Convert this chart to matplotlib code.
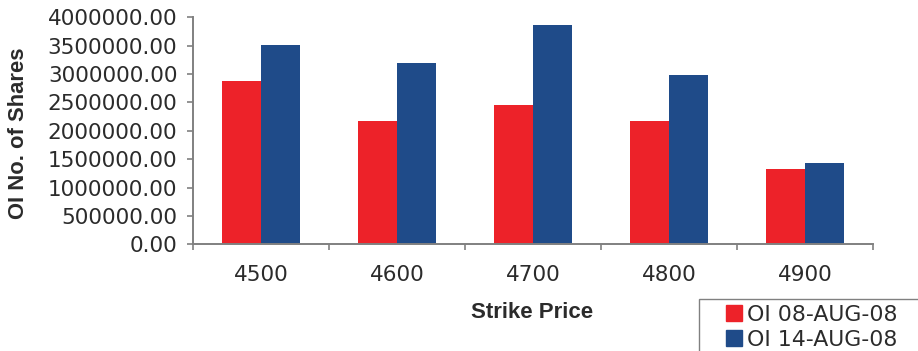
import numpy as np
import matplotlib.pyplot as plt
from matplotlib.lines import Line2D
from matplotlib.patches import Rectangle
from matplotlib.ticker import FuncFormatter

# open interest per strike
strikes = ['4500', '4600', '4700', '4800', '4900']
oi_08aug = [2880000, 2170000, 2460000, 2170000, 1330000]
oi_14aug = [3510000, 3200000, 3870000, 2980000, 1430000]
series_names = ['OI 08-AUG-08', 'OI 14-AUG-08']

red = '#ed2229'
blue = '#1f4b89'
grey = '#808080'
txt = '#2b2b2b'

W, H = 918, 351
fig = plt.figure(figsize=(W / 100, H / 100), dpi=100)
ax = fig.add_axes([193.3 / W, 1 - 244.3 / H, 680 / W, 227 / H])

x = np.arange(len(strikes))
w = 0.288
ax.bar(x - w / 2, oi_08aug, w, color=red)
ax.bar(x + w / 2, oi_14aug, w, color=blue)

ax.set_xlim(-0.5, len(strikes) - 0.5)
ax.set_ylim(0, 4000000)
ax.set_yticks(np.arange(0, 4000001, 500000))
ax.yaxis.set_major_formatter(FuncFormatter(lambda v, p: '%.2f' % v))

# x ticks sit between categories, labels in the middle
ax.set_xticks(np.arange(-0.5, len(strikes)))
ax.set_xticklabels([])
ax.set_xticks(x, minor=True)
ax.set_xticklabels(strikes, minor=True)
ax.tick_params(axis='x', which='minor', length=0, pad=15, labelsize=15.5, labelcolor=txt)
ax.tick_params(axis='x', which='major', length=4.5, width=1.2, color=grey, direction='out')
ax.tick_params(axis='y', length=4.5, width=1.2, color=grey, labelsize=15.5, labelcolor=txt, pad=7)

for s in ['top', 'right']:
    ax.spines[s].set_visible(False)
for s in ['left', 'bottom']:
    ax.spines[s].set_color(grey)
    ax.spines[s].set_linewidth(1.4)

fig.text(18.5 / W, 1 - 133 / H, 'OI No. of Shares', rotation=90, ha='center', va='center',
         fontsize=15.8, fontweight='bold', color=txt, family='Liberation Sans')
fig.text(531.7 / W, 1 - 313 / H, 'Strike Price', ha='center', va='center',
         fontsize=16, fontweight='bold', color=txt, family='Liberation Sans')

# legend box runs off the right and bottom edge
fig.patches.append(Rectangle((699 / W, -0.1), 0.3, 1 - 299 / H + 0.1, transform=fig.transFigure,
                             fill=False, edgecolor=grey, linewidth=1.0))
handles = [Line2D([], [], marker='s', linestyle='', markersize=11, color=c) for c in (red, blue)]
leg = fig.legend(handles, series_names, loc='upper left', bbox_to_anchor=(706 / W, 1 - 305 / H),
                 frameon=False, fontsize=15.8, handlelength=2.56, handletextpad=-0.7,
                 labelspacing=0.22, borderpad=0, borderaxespad=0)
for t in leg.get_texts():
    t.set_color(txt)

fig.savefig('out.png', dpi=100)
